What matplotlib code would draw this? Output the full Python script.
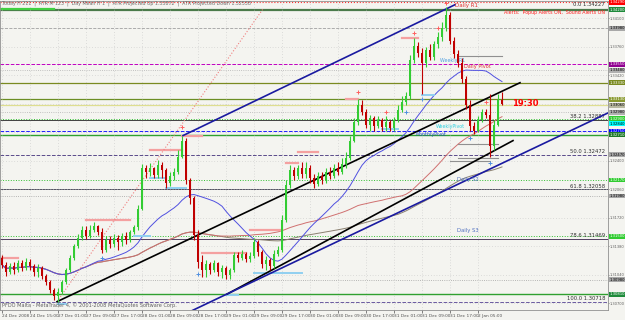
import numpy as np
import pandas as pd
import matplotlib
matplotlib.use("Agg")
import matplotlib.pyplot as plt
import matplotlib.transforms as mtransforms

# EURUSD-style H1 bars
first_open = 1.3124
closes = [1.3116, 1.3107, 1.3114, 1.3110, 1.3118, 1.3112, 1.3119, 1.3114, 1.3107, 1.3112,
          1.3103, 1.3095, 1.3086, 1.3079, 1.3084, 1.3095, 1.3110, 1.3124, 1.3138, 1.3148,
          1.3157, 1.3150, 1.3158, 1.3162, 1.3155, 1.3134, 1.3145, 1.3141, 1.3148, 1.3143,
          1.3150, 1.3145, 1.3155, 1.3161, 1.3183, 1.3231, 1.3226, 1.3231, 1.3223, 1.3235,
          1.3229, 1.3214, 1.3222, 1.3226, 1.3245, 1.3264, 1.3217, 1.3195, 1.3151, 1.3119,
          1.3110, 1.3117, 1.3110, 1.3118, 1.3107, 1.3112, 1.3104, 1.3110, 1.3128, 1.3124,
          1.3129, 1.3123, 1.3126, 1.3143, 1.3131, 1.3117, 1.3122, 1.3114, 1.3129, 1.3134,
          1.3169, 1.3211, 1.3229, 1.3222, 1.3231, 1.3224, 1.3231, 1.3219, 1.3212, 1.3222,
          1.3217, 1.3226, 1.3222, 1.3231, 1.3226, 1.3236, 1.3243, 1.3264, 1.3286, 1.3307,
          1.3298, 1.3283, 1.3291, 1.3281, 1.3288, 1.3280, 1.3286, 1.3279, 1.3288, 1.3300,
          1.3310, 1.3317, 1.3360, 1.3377, 1.3369, 1.3357, 1.3372, 1.3364, 1.3379, 1.3388,
          1.3398, 1.3414, 1.3383, 1.3367, 1.3357, 1.3338, 1.3307, 1.3281, 1.3276, 1.3288,
          1.3298, 1.3295, 1.3257, 1.3283, 1.3312, 1.3308]
highs = [1.3128, 1.3119, 1.3118, 1.3119, 1.3122, 1.3122, 1.3124, 1.3123, 1.3117, 1.3117,
         1.3114, 1.3105, 1.3098, 1.3088, 1.3088, 1.3098, 1.3112, 1.3128, 1.3141, 1.3153,
         1.3162, 1.3162, 1.3163, 1.3167, 1.3164, 1.3160, 1.3150, 1.3150, 1.3153, 1.3151,
         1.3154, 1.3155, 1.3158, 1.3164, 1.3187, 1.3236, 1.3235, 1.3237, 1.3233, 1.3241,
         1.3238, 1.3231, 1.3226, 1.3231, 1.3253, 1.3270, 1.3267, 1.3219, 1.3198, 1.3157,
         1.3128, 1.3122, 1.3119, 1.3122, 1.3119, 1.3116, 1.3114, 1.3112, 1.3131, 1.3131,
         1.3134, 1.3131, 1.3131, 1.3148, 1.3145, 1.3134, 1.3126, 1.3124, 1.3134, 1.3138,
         1.3175, 1.3217, 1.3235, 1.3233, 1.3235, 1.3238, 1.3238, 1.3235, 1.3224, 1.3226,
         1.3226, 1.3231, 1.3233, 1.3236, 1.3238, 1.3243, 1.3250, 1.3270, 1.3291, 1.3314,
         1.3312, 1.3302, 1.3295, 1.3293, 1.3293, 1.3291, 1.3293, 1.3288, 1.3292, 1.3306,
         1.3317, 1.3322, 1.3366, 1.3386, 1.3381, 1.3374, 1.3376, 1.3379, 1.3383, 1.3393,
         1.3405, 1.3423, 1.3417, 1.3388, 1.3372, 1.3362, 1.3341, 1.3312, 1.3286, 1.3293,
         1.3302, 1.3302, 1.3319, 1.3288, 1.3319, 1.3322]
lows = [1.3112, 1.3103, 1.3105, 1.3105, 1.3107, 1.3109, 1.3110, 1.3110, 1.3103, 1.3101,
        1.3099, 1.3092, 1.3082, 1.3074, 1.3072, 1.3081, 1.3093, 1.3107, 1.3122, 1.3136,
        1.3145, 1.3147, 1.3148, 1.3155, 1.3151, 1.3130, 1.3131, 1.3136, 1.3137, 1.3134,
        1.3138, 1.3141, 1.3143, 1.3153, 1.3157, 1.3181, 1.3220, 1.3222, 1.3219, 1.3220,
        1.3220, 1.3208, 1.3210, 1.3217, 1.3224, 1.3243, 1.3212, 1.3189, 1.3145, 1.3112,
        1.3101, 1.3101, 1.3105, 1.3107, 1.3103, 1.3100, 1.3099, 1.3099, 1.3107, 1.3119,
        1.3122, 1.3119, 1.3119, 1.3124, 1.3126, 1.3112, 1.3110, 1.3110, 1.3112, 1.3126,
        1.3131, 1.3167, 1.3207, 1.3217, 1.3218, 1.3219, 1.3220, 1.3214, 1.3207, 1.3210,
        1.3212, 1.3214, 1.3218, 1.3219, 1.3223, 1.3224, 1.3231, 1.3241, 1.3262, 1.3283,
        1.3294, 1.3279, 1.3276, 1.3276, 1.3279, 1.3276, 1.3276, 1.3275, 1.3276, 1.3286,
        1.3298, 1.3307, 1.3314, 1.3357, 1.3364, 1.3320, 1.3352, 1.3360, 1.3360, 1.3374,
        1.3383, 1.3395, 1.3379, 1.3362, 1.3352, 1.3333, 1.3302, 1.3276, 1.3272, 1.3274,
        1.3286, 1.3291, 1.3244, 1.3253, 1.3281, 1.3307]
opens = [first_open] + closes[:-1]

time_labels = ["24 Dec 2008", "24 Dec 15:00", "27 Dec 01:00", "27 Dec 09:00", "27 Dec 17:00",
               "28 Dec 01:00", "28 Dec 09:00", "28 Dec 17:00", "29 Dec 01:00", "29 Dec 09:00",
               "29 Dec 17:00", "30 Dec 01:00", "30 Dec 09:00", "30 Dec 17:00", "31 Dec 01:00",
               "31 Dec 09:00", "31 Dec 17:00", "2 Jan 05:00"]
label_step = 7

price_ticks = [1.30700, 1.31040, 1.31380, 1.31720, 1.32060, 1.32400, 1.32740, 1.33080,
               1.33420, 1.33760, 1.34100]

fib_levels = [0.0, 38.2, 50.0, 61.8, 78.6, 100.0]
fib_prices = [1.34227, 1.32887, 1.32472, 1.32058, 1.31469, 1.30718]
fib_colors = ['#4a7a4a', '#404040', '#5a4a8a', '#505060', '#504060', '#6a5aa0']

# horizontal indicator levels (pivots, S/R)
lvl_prices = [1.3429, 1.3420, 1.3398, 1.3355, 1.3348, 1.3333, 1.3313, 1.3306, 1.3298,
              1.3290, 1.3275, 1.3271, 1.3217, 1.3198, 1.3150, 1.3098, 1.3081]
lvl_colors = ['#ff3030', '#4a7a4a', '#a0a0a0', '#c000c0', '#b0b0b0', '#7a8a20', '#6b8e23',
              '#dede90', '#b0b0b0', '#30c030', '#2020ff', '#30a030', '#30c030', '#a0a0a0',
              '#30c030', '#a0a0a0', '#30a030']
lvl_styles = [':', '-', '--', '--', ':', '-', '-', '-', ':', ':', '--', '-', ':', ':', ':', ':', '-']
lvl_widths = [0.8, 1.6, 0.6, 0.7, 0.6, 0.9, 0.9, 0.9, 0.6, 0.7, 0.7, 1.0, 0.7, 0.6, 0.7, 0.6, 1.0]

# price tags on the right edge
box_prices = [1.3429, 1.3420, 1.3398, 1.3355, 1.3348, 1.3333, 1.3313, 1.3306, 1.3298, 1.3290,
              1.3284, 1.3275, 1.3271, 1.3247, 1.3217, 1.3198, 1.3150, 1.3098, 1.3081]
box_colors = ['#ff0000', '#1e8a3a', '#a8a8a8', '#900090', '#b0b0b0', '#7a8a20', '#8a9a30',
              '#b8b8a0', '#b0b0b0', '#30cc30', '#00ffff', '#0000ff', '#1e7a2a', '#a8a8a8',
              '#30cc30', '#a8a8a8', '#30cc30', '#a8a8a8', '#1e8a3a']

# trendlines (bar, price) -> (bar, price)
tl_x0 = [13.75, 45.25, 13.75, 56.25, 46.25]
tl_y0 = [1.3072, 1.3270, 1.3072, 1.3081, 1.30585]
tl_x1 = [65.25, 113.25, 129.5, 127.75, 151.5]
tl_y1 = [1.3421, 1.3426, 1.3333, 1.3264, 1.3297]
tl_colors = ['#f08080', '#1a1aa0', '#000000', '#000000', '#1a1aa0']
tl_styles = [':', '-', '-', '-', '-']
tl_widths = [0.8, 1.2, 1.2, 1.2, 1.2]

# fractal levels: (start bar, end bar, price)
pink_start = [0, 21, 37, 45, 50, 62, 71, 74, 86, 100]
pink_end = [4, 32, 45, 50, 61, 70, 74, 79, 89, 104]
pink_price = [1.3124, 1.3169, 1.3253, 1.3270, 1.3130, 1.3157, 1.3237, 1.3250, 1.3314, 1.3386]
blue_start = [14, 33, 37, 41, 56, 63, 95, 105]
blue_end = [16, 37, 41, 46, 59, 75, 99, 108]
blue_price = [1.3069, 1.3150, 1.3219, 1.3207, 1.3080, 1.3106, 1.3278, 1.3318]
gray_start = [114, 114, 114, 112]
gray_end = [125, 124, 124, 122]
gray_price = [1.3365, 1.3260, 1.3243, 1.3240]
plus_up_x = [45, 89, 96, 103, 109, 111, 121]
plus_up_y = [1.3280, 1.3322, 1.3298, 1.3392, 1.3398, 1.3428, 1.3310]
plus_dn_x = [25, 49, 101, 105, 117, 122]
plus_dn_y = [1.3124, 1.3105, 1.3298, 1.3313, 1.3267, 1.3237]

bull = '#33cc33'
bear = '#c00000'

fig = plt.figure(figsize=(6.25, 3.2), dpi=100)
fig.patch.set_facecolor('#f4f4f0')
ax = fig.add_axes([0.0, 10 / 320, 608 / 625, 1 - 10 / 320 - 0.5 / 320])
ax.set_facecolor('#f4f4f0')

n = len(closes)
xs = np.arange(n)
o = np.array(opens)
c = np.array(closes)
cols = [bull if c[i] >= o[i] else bear for i in range(n)]

# moving averages
s = pd.Series(closes)
ax.plot(xs, s.rolling(100, min_periods=1).mean(), color='#8a8070', lw=0.7)
ax.plot(xs, s.rolling(55, min_periods=1).mean(), color='#d07070', lw=0.7)
ax.plot(xs, s.rolling(21, min_periods=1).mean(), color='#5050e0', lw=0.7)

for p, col, ls, lw in zip(lvl_prices, lvl_colors, lvl_styles, lvl_widths):
    ax.axhline(p, color=col, ls=ls, lw=lw, zorder=1)
ax.plot([-0.5, 13], [1.3421, 1.3421], color='#40d040', lw=1.6, zorder=1)

for lv, p, col in zip(fib_levels, fib_prices, fib_colors):
    if lv > 0:
        ax.axhline(p, color=col, ls='--' if lv in (50.0, 100.0) else '-', lw=0.7, zorder=1)
    ax.text(150.8, p + 0.00005, f"{lv:.1f} {p:.5f}", ha='right', va='bottom',
            fontsize=3.8, color='#303030')

for a, b, p in zip(pink_start, pink_end, pink_price):
    ax.plot([a, b], [p, p], color='#f4a0a0', lw=1.6, zorder=2)
for a, b, p in zip(blue_start, blue_end, blue_price):
    ax.plot([a, b], [p, p], color='#90d0f0', lw=1.4, zorder=2)
for a, b, p in zip(gray_start, gray_end, gray_price):
    ax.plot([a, b], [p, p], color='#909090', lw=0.8, zorder=2)
ax.scatter(plus_up_x, plus_up_y, marker='+', s=10, color='#ff6060', lw=0.7, zorder=4)
ax.scatter(plus_dn_x, plus_dn_y, marker='+', s=10, color='#5090e0', lw=0.7, zorder=4)

for x0, y0, x1, y1, col, ls, lw in zip(tl_x0, tl_y0, tl_x1, tl_y1, tl_colors, tl_styles, tl_widths):
    ax.plot([x0, x1], [y0, y1], color=col, ls=ls, lw=lw, zorder=3)

# candles
ax.vlines(xs, lows, highs, colors=cols, lw=0.8, zorder=5)
body = np.maximum(np.abs(c - o), 0.00004)
ax.bar(xs, body, bottom=np.minimum(o, c), width=0.62, color=cols, lw=0, zorder=6)

# labels
ax.text(113.3, 1.3425, "Daily R1", color='#e03030', fontsize=4, va='center')
ax.text(115.5, 1.3352, "Daily Pivot", color='#e03030', fontsize=3.6, va='center')
ax.text(109.5, 1.3360, "Weekly R1", color='#50a0e0', fontsize=3.4, va='center')
ax.text(108.5, 1.3281, "WeeklyPivot", color='#30d0e0', fontsize=3.4, va='center')
ax.text(103.5, 1.3271, "MonthlyPivot", color='#2050c0', fontsize=3.4, va='center')
ax.text(113.8, 1.3218, "Daily S2", color='#5070c0', fontsize=3.8, va='center')
ax.text(113.8, 1.3157, "Daily S3", color='#5070c0', fontsize=3.8, va='center')
ax.text(127.5, 1.3308, "19:30", color='#ff0000', fontsize=6, fontweight='bold', va='center')
ax.text(150.8, 1.3417, "Alerts:  Popup Alerts ON,  Sound Alerts ON", ha='right', va='center',
        fontsize=3.4, color='#ff2020')
ax.text(0.004, 0.016, "PFDO Malta - MetaTrader 4, \u00a9 2001-2008 MetaQuotes Software Corp.",
        transform=ax.transAxes, fontsize=3.6, color='#606060', va='center')
fig.text(0.004, 1 - 3.5 / 320,
         "Today H 211  |  ATR M 123  |  Day Mean H 1  |  ATR Projected Up 1.33872  |  ATR Projected Down 1.32538",
         fontsize=3.4, color='#707070', va='center')

trans = mtransforms.blended_transform_factory(ax.transAxes, ax.transData)
for p, col in zip(box_prices, box_colors):
    tc = '#000000' if col in ('#00ffff', '#b8b8a0', '#a8a8a8', '#b0b0b0') else '#ffffff'
    ax.text(1.002, p, f"{p:.5f}", transform=trans, fontsize=2.7, color=tc, va='center',
            ha='left', clip_on=False, zorder=10,
            bbox=dict(boxstyle='square,pad=0.12', fc=col, ec='none'))

ax.set_xlim(-0.5, 151.5)
ax.set_ylim(1.30621, 1.3431)
ax.yaxis.tick_right()
ax.set_yticks(price_ticks)
# tags cover the scale labels that sit under them
tick_text = [f"{t:.5f}" if min(abs(t - b) for b in box_prices) > 0.0005 else "" for t in price_ticks]
ax.set_yticklabels(tick_text)
ax.set_xticks([label_step * k for k in range(len(time_labels))])
ax.set_xticklabels(time_labels)
for lab in ax.get_xticklabels():
    lab.set_ha('left')
ax.tick_params(axis='x', labelsize=3.1, colors='#505050', length=2, width=0.5, pad=1)
ax.tick_params(axis='y', labelsize=2.6, colors='#606060', length=1, width=0.5, pad=0.3)
ax.grid(True, color='#c4c4c4', ls=(0, (1, 3)), lw=0.5)
for sp in ax.spines.values():
    sp.set_color('#909090')
    sp.set_linewidth(0.6)

fig.savefig("out.png", dpi=100, facecolor=fig.get_facecolor())
